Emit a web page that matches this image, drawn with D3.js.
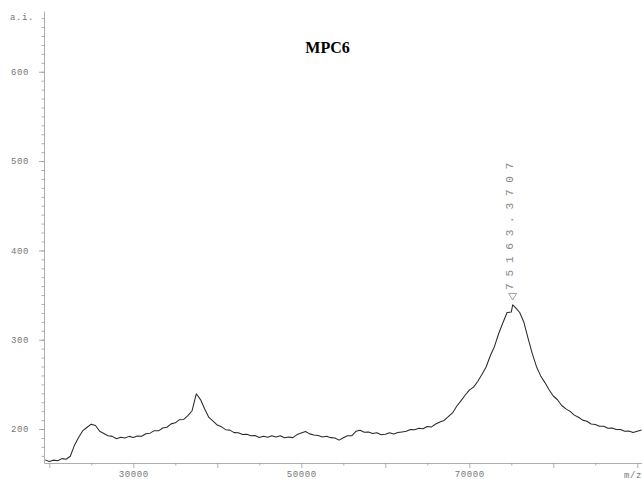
<!DOCTYPE html>
<html>
<head>
<meta charset="utf-8">
<script src="https://cdn.jsdelivr.net/npm/d3@7"></script>
<style>
  html, body { margin: 0; padding: 0; background: #fff; }
  svg { display: block; }
  .ax text { font-family: "Liberation Mono", "DejaVu Sans Mono", monospace; font-size: 9px; fill: #777; letter-spacing: 0.6px; }
  .ax path, .ax line { stroke: #999; stroke-width: 0.8; }
</style>
</head>
<body>
<svg id="chart" width="642" height="479"></svg>
<script>
// MALDI-TOF spectrum of MPC6: intensity (a.i.) against m/z
const chartTitle = "MPC6";
const peakMz = 75163.3707;
const peakIntensity = 339;

const mzValues = [
  19500, 20000, 20500, 21000, 21500, 22000, 22500, 23000, 23500, 24000,
  24500, 25000, 25500, 26000, 26500, 27000, 27500, 28000, 28500, 29000,
  29500, 30000, 30500, 31000, 31500, 32000, 32500, 33000, 33500, 34000,
  34500, 35000, 35500, 36000, 36500, 37000, 37500, 38000, 38500, 39000,
  39500, 40000, 40500, 41000, 41500, 42000, 42500, 43000, 43500, 44000,
  44500, 45000, 45500, 46000, 46500, 47000, 47500, 48000, 48500, 49000,
  49500, 50000, 50500, 51000, 51500, 52000, 52500, 53000, 53500, 54000,
  54500, 55000, 55500, 56000, 56500, 57000, 57500, 58000, 58500, 59000,
  59500, 60000, 60500, 61000, 61500, 62000, 62500, 63000, 63500, 64000,
  64500, 65000, 65500, 66000, 66500, 67000, 67500, 68000, 68500, 69000,
  69500, 70000, 70500, 71000, 71500, 72000, 72500, 73000, 73500, 74000,
  74500, 75000, peakMz, 75500, 76000, 76500, 77000, 77500, 78000, 78500,
  79000, 79500, 80000, 80500, 81000, 81500, 82000, 82500, 83000, 83500,
  84000, 84500, 85000, 85500, 86000, 86500, 87000, 87500, 88000, 88500,
  89000, 89500, 90000, 90500
];

const intensityValues = [
  165.5, 163.8, 165.2, 164.6, 166.9, 166.2, 169.5, 182.0, 190.8, 198.3,
  202.0, 205.5, 204.0, 197.5, 195.0, 192.5, 191.8, 189.2, 190.9, 190.0,
  191.8, 190.6, 192.3, 192.0, 194.8, 195.4, 198.2, 198.0, 201.2, 202.0,
  205.8, 207.0, 210.5, 210.8, 215.0, 220.5, 239.5, 233.0, 222.5, 213.0,
  208.8, 204.5, 202.5, 199.3, 198.8, 196.0, 195.8, 194.0, 194.2, 192.5,
  192.8, 190.6, 192.0, 190.8, 192.4, 191.2, 192.6, 190.2, 191.0, 190.4,
  193.8, 195.6, 197.2, 194.6, 193.4, 192.8, 191.2, 191.9, 190.4, 189.9,
  187.6, 190.2, 192.6, 192.4, 197.5, 198.6, 196.4, 196.8, 195.0, 195.9,
  193.6, 194.3, 195.8, 194.4, 196.2, 196.8, 197.5, 199.6, 199.2, 200.9,
  200.3, 202.8, 202.4, 205.6, 208.0, 209.6, 213.8, 218.0, 225.5, 231.5,
  237.8, 243.5, 247.0, 253.2, 261.0, 269.5, 282.0, 292.5, 307.0, 319.0,
  330.5, 331.0, peakIntensity, 336.0, 330.5, 319.5, 301.5, 284.5, 269.8, 259.5,
  252.0, 244.0, 237.0, 232.8, 226.4, 222.6, 219.8, 215.6, 213.2, 210.0,
  208.8, 205.6, 205.2, 203.1, 203.2, 200.9, 201.2, 199.4, 199.6, 197.5,
  197.8, 196.1, 197.6, 198.9
];

const yTickLabels = [200, 300, 400, 500, 600];
const yMinorTicks = d3.range(170, 661, 10);
const xTickLabels = [30000, 50000, 70000];
const xMajorTicks = d3.range(20000, 90001, 10000);
const xMinorTicks = d3.range(25000, 90001, 10000);

const svg = d3.select("#chart");

const x = d3.scaleLinear().domain([19370, 90560]).range([44, 642]);
const y = d3.scaleLinear().domain([162, 668]).range([463, 11]);

// y axis: minor ticks every 10, labelled ticks every 100
svg.append("g").attr("class", "ax").attr("transform", "translate(44,0)")
  .call(d3.axisLeft(y).tickValues(yMinorTicks).tickSize(2.5).tickSizeOuter(0).tickFormat(""));
svg.append("g").attr("class", "ax").attr("transform", "translate(44,0)")
  .call(d3.axisLeft(y).tickValues(yTickLabels).tickSize(5).tickSizeOuter(0).tickPadding(10).tickFormat(d3.format("d")))
  .call(g => g.select(".domain").remove());

// x axis
svg.append("g").attr("class", "ax").attr("transform", "translate(0,463)")
  .call(d3.axisBottom(x).tickValues(xMinorTicks).tickSize(2.5).tickSizeOuter(0).tickFormat(""));
svg.append("g").attr("class", "ax").attr("transform", "translate(0,463)")
  .call(d3.axisBottom(x).tickValues(xMajorTicks).tickSize(5).tickSizeOuter(0).tickPadding(3)
    .tickFormat(d => xTickLabels.includes(d) ? String(d) : ""))
  .call(g => g.select(".domain").remove());

// unit labels
svg.append("text").attr("x", 10).attr("y", 19.5).text("a.i.")
  .attr("font-family", "Liberation Mono, monospace").attr("font-size", 9).attr("fill", "#777").attr("letter-spacing", 0.6);
svg.append("text").attr("x", 624).attr("y", 477.5).text("m/z")
  .attr("font-family", "Liberation Mono, monospace").attr("font-size", 9).attr("fill", "#777").attr("letter-spacing", 0.6);

// title
svg.append("text").attr("x", 327.5).attr("y", 53).attr("text-anchor", "middle")
  .attr("font-family", "Liberation Serif, Times New Roman, serif").attr("font-weight", "bold")
  .attr("font-size", 16).attr("fill", "#000").text(chartTitle);

// spectrum trace
const points = mzValues.map((m, i) => [m, intensityValues[i]]);
svg.append("path").datum(points)
  .attr("fill", "none").attr("stroke", "#2a2a2a").attr("stroke-width", 1.05).attr("stroke-linejoin", "round")
  .attr("d", d3.line().x(d => x(d[0])).y(d => y(d[1])));

// peak marker and rotated m/z label
const px = x(peakMz);
const py = y(peakIntensity) - 5;
svg.append("path")
  .attr("d", `M${px - 4},${py - 6.5} L${px + 4},${py - 6.5} L${px},${py} Z`)
  .attr("fill", "none").attr("stroke", "#888").attr("stroke-width", 0.8);
svg.append("text")
  .attr("transform", `translate(${px + 0.5},${py - 10}) rotate(-90)`)
  .attr("font-family", "Liberation Mono, monospace").attr("font-size", 11)
  .attr("letter-spacing", 6.8).attr("fill", "#888")
  .text(peakMz.toFixed(4));
</script>
</body>
</html>
